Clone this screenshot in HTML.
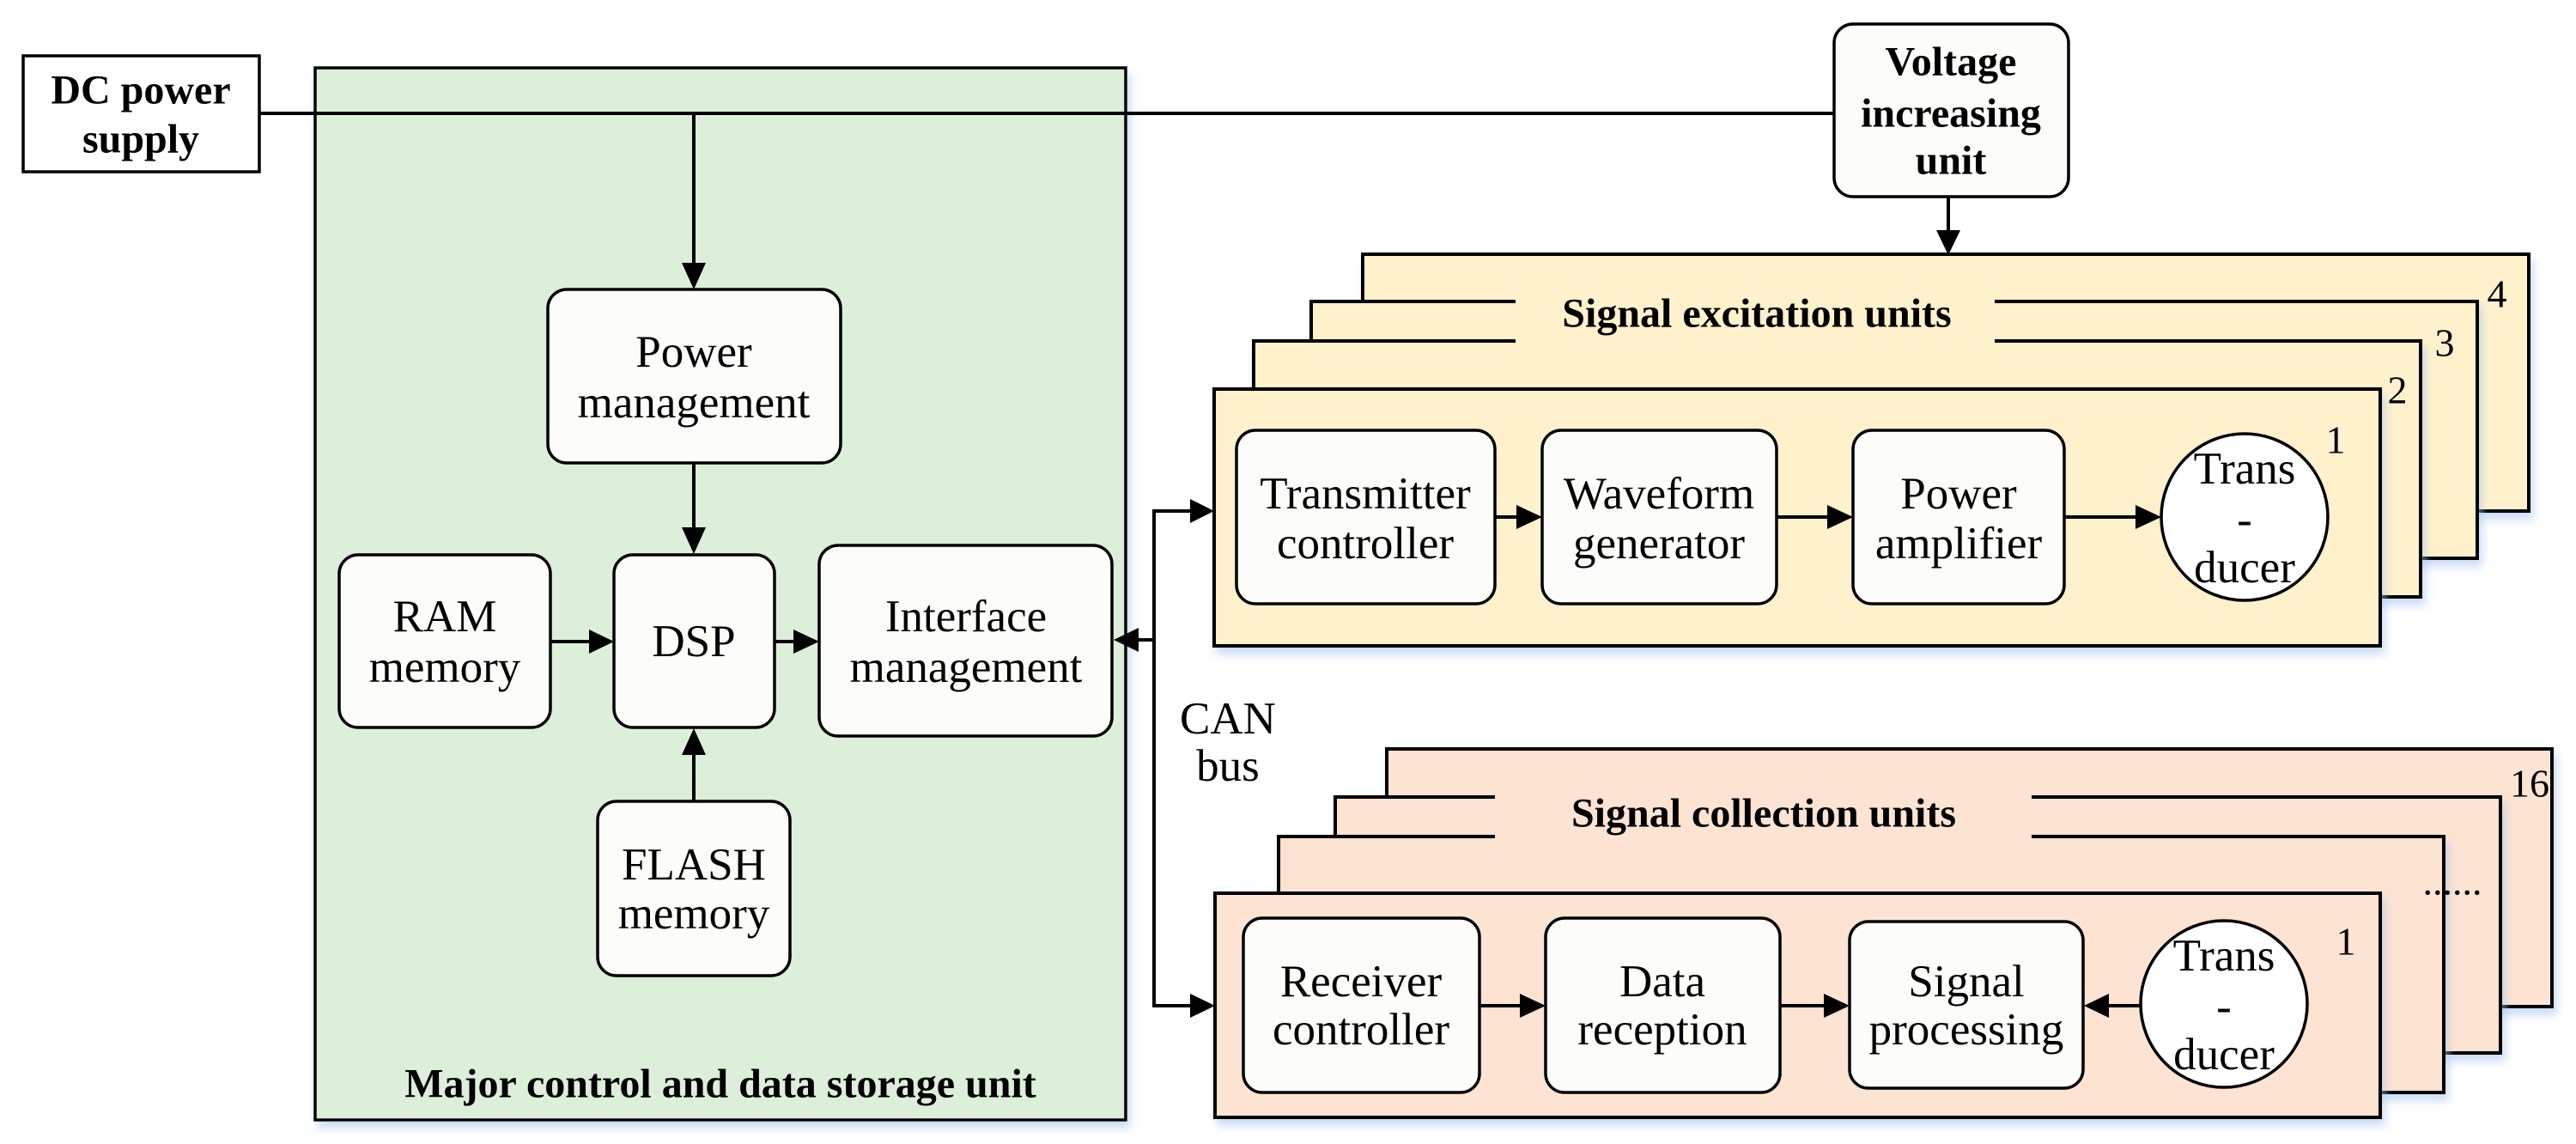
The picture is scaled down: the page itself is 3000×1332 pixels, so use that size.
<!DOCTYPE html>
<html><head><meta charset="utf-8"><style>
html,body{margin:0;padding:0;background:#fff;}
svg{display:block;font-family:"Liberation Serif","DejaVu Serif",serif;}
svg text{font-family:"Liberation Serif","DejaVu Serif",serif;fill:#000;}
.t{font-size:53px;text-anchor:middle;dominant-baseline:central;}
.b{font-weight:bold;font-size:48px;text-anchor:middle;dominant-baseline:central;}
.n{font-size:46px;text-anchor:middle;dominant-baseline:central;}
.box{fill:#fcfcf8;stroke:#000;stroke-width:3.5;}
.ln{stroke:#000;stroke-width:4;fill:none;}
.ex{fill:#fff1cc;stroke:#000;stroke-width:4;}
.co{fill:#fde3d2;stroke:#000;stroke-width:4;}
</style></head><body>
<svg width="3000" height="1332" viewBox="0 0 3000 1332" xmlns="http://www.w3.org/2000/svg" font-family="Liberation Serif, serif">
<defs>
<filter id="sh" x="-5%" y="-5%" width="110%" height="115%"><feDropShadow dx="4" dy="8" stdDeviation="5" flood-color="#a9c8ee" flood-opacity="0.6"/></filter>
</defs>

<rect x="367" y="79" width="944" height="1225" fill="#dcefd9" stroke="#000" stroke-width="3.5" filter="url(#sh)"/>
<text class="b" x="839" y="1262" font-size="46">Major control and data storage unit</text>

<rect x="27" y="65" width="275" height="135" fill="#fff" stroke="#000" stroke-width="3.5"/>
<text class="b" x="164" y="105">DC power</text>
<text class="b" x="164" y="162">supply</text>

<line class="ln" x1="302" y1="132" x2="2136" y2="132"/>
<line class="ln" x1="808" y1="132" x2="808" y2="310"/>
<polygon points="794,306 822,306 808,337"/>

<rect class="box" x="2136" y="28" width="273" height="201" rx="22" fill="#fff"/>
<text class="b" x="2272" y="72">Voltage</text>
<text class="b" x="2272" y="132">increasing</text>
<text class="b" x="2272" y="187">unit</text>
<line class="ln" x1="2269" y1="229" x2="2269" y2="272"/>
<polygon points="2255,268 2283,268 2269,297"/>

<rect class="box" x="638" y="337" width="341" height="202" rx="22"/>
<text class="t" x="808" y="410">Power</text>
<text class="t" x="808" y="469">management</text>
<line class="ln" x1="808" y1="539" x2="808" y2="618"/>
<polygon points="794,614 822,614 808,645"/>

<rect class="box" x="395" y="646" width="246" height="201" rx="22"/>
<text class="t" x="518" y="718">RAM</text>
<text class="t" x="518" y="777">memory</text>
<line class="ln" x1="641" y1="747" x2="690" y2="747"/>
<polygon points="686,733 686,761 715,747"/>

<rect class="box" x="715" y="646" width="187" height="201" rx="22"/>
<text class="t" x="808" y="747">DSP</text>
<line class="ln" x1="902" y1="747" x2="928" y2="747"/>
<polygon points="924,733 924,761 954,747"/>

<rect class="box" x="954" y="635" width="341" height="222" rx="22"/>
<text class="t" x="1125" y="718">Interface</text>
<text class="t" x="1125" y="777">management</text>

<rect class="box" x="696" y="933" width="224" height="203" rx="22"/>
<text class="t" x="808" y="1007">FLASH</text>
<text class="t" x="808" y="1064">memory</text>
<line class="ln" x1="808" y1="933" x2="808" y2="875"/>
<polygon points="794,879 822,879 808,848"/>

<polyline class="ln" points="1390,595 1344,595 1344,1171 1390,1171"/>
<polygon points="1386,581 1386,609 1414,595"/>
<polygon points="1386,1157 1386,1185 1415,1171"/>
<line class="ln" x1="1344" y1="745" x2="1322" y2="745"/>
<polygon points="1326,731 1326,759 1297,745"/>
<text class="t" x="1430" y="837">CAN</text>
<text class="t" x="1430" y="892">bus</text>

<rect class="ex" x="1587" y="296" width="1358" height="299" filter="url(#sh)"/>
<rect class="ex" x="1527" y="351" width="1358" height="299" filter="url(#sh)"/>
<rect class="ex" x="1460" y="397" width="1359" height="298" filter="url(#sh)"/>
<rect x="1765" y="345" width="558" height="56" fill="#fff1cc"/>
<text class="b" x="2046" y="365" font-size="46">Signal excitation units</text>
<rect class="ex" x="1414" y="453" width="1358" height="299" filter="url(#sh)"/>
<text class="n" x="2908" y="342">4</text>
<text class="n" x="2847" y="399">3</text>
<text class="n" x="2792" y="454">2</text>
<text class="n" x="2720" y="512">1</text>

<rect class="box" x="1440" y="501" width="301" height="202" rx="22"/>
<text class="t" x="1590" y="575">Transmitter</text>
<text class="t" x="1590" y="633">controller</text>
<line class="ln" x1="1741" y1="602" x2="1770" y2="602"/>
<polygon points="1766,588 1766,616 1796,602"/>
<rect class="box" x="1796" y="501" width="273" height="202" rx="22"/>
<text class="t" x="1932" y="575">Waveform</text>
<text class="t" x="1932" y="633">generator</text>
<line class="ln" x1="2069" y1="602" x2="2130" y2="602"/>
<polygon points="2128,588 2128,616 2158,602"/>
<rect class="box" x="2158" y="501" width="246" height="202" rx="22"/>
<text class="t" x="2281" y="575">Power</text>
<text class="t" x="2281" y="633">amplifier</text>
<line class="ln" x1="2404" y1="602" x2="2490" y2="602"/>
<polygon points="2487,588 2487,616 2517,602"/>
<ellipse cx="2614" cy="602" rx="97" ry="97" fill="#fff" stroke="#000" stroke-width="3.5"/>
<text class="t" x="2614" y="546">Trans</text>
<text class="t" x="2614" y="605">-</text>
<text class="t" x="2614" y="661">ducer</text>

<rect class="co" x="1615" y="872" width="1357" height="300" filter="url(#sh)"/>
<rect class="co" x="1555" y="928" width="1357" height="298" filter="url(#sh)"/>
<rect class="co" x="1489" y="974" width="1357" height="298" filter="url(#sh)"/>
<rect x="1741" y="922" width="625" height="56" fill="#fde3d2"/>
<text class="b" x="2054" y="947" font-size="46">Signal collection units</text>
<rect class="co" x="1415" y="1040" width="1357" height="261" filter="url(#sh)"/>
<text class="n" x="2946" y="912">16</text>
<text class="n" x="2856" y="1026">......</text>
<text class="n" x="2732" y="1096">1</text>

<rect class="box" x="1448" y="1069" width="275" height="203" rx="22"/>
<text class="t" x="1585" y="1143">Receiver</text>
<text class="t" x="1585" y="1199">controller</text>
<line class="ln" x1="1723" y1="1171" x2="1772" y2="1171"/>
<polygon points="1770,1157 1770,1185 1800,1171"/>
<rect class="box" x="1800" y="1069" width="273" height="203" rx="22"/>
<text class="t" x="1936" y="1143">Data</text>
<text class="t" x="1936" y="1199">reception</text>
<line class="ln" x1="2073" y1="1171" x2="2126" y2="1171"/>
<polygon points="2124,1157 2124,1185 2154,1171"/>
<rect class="box" x="2154" y="1073" width="272" height="194" rx="22"/>
<text class="t" x="2290" y="1143">Signal</text>
<text class="t" x="2290" y="1199">processing</text>
<line class="ln" x1="2494" y1="1171" x2="2452" y2="1171"/>
<polygon points="2456,1157 2456,1185 2427,1171"/>
<ellipse cx="2590" cy="1169" rx="97" ry="97" fill="#fff" stroke="#000" stroke-width="3.5"/>
<text class="t" x="2590" y="1113">Trans</text>
<text class="t" x="2590" y="1172">-</text>
<text class="t" x="2590" y="1228">ducer</text>
</svg>
</body></html>
